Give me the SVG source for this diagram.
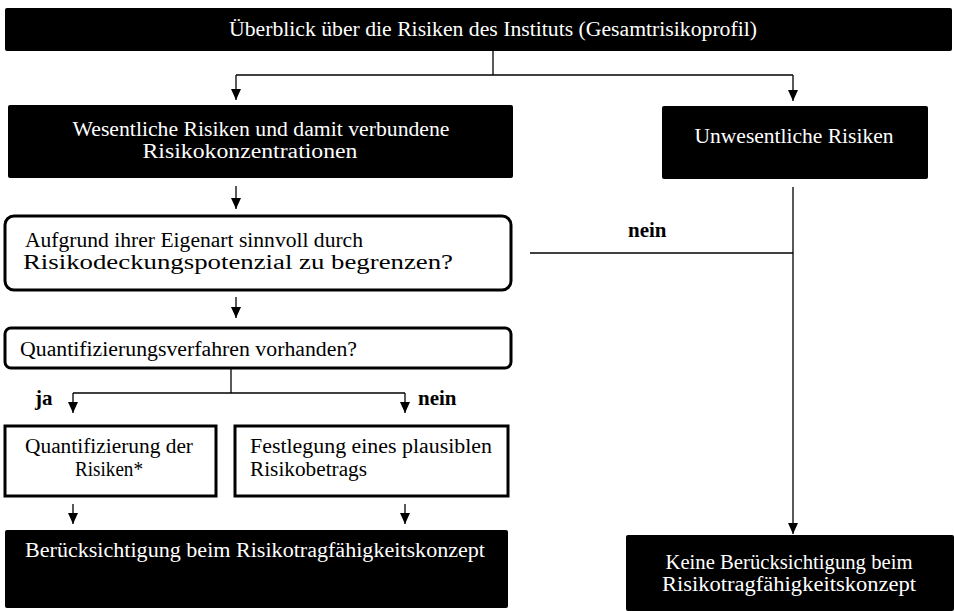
<svg xmlns="http://www.w3.org/2000/svg" width="954" height="611" viewBox="0 0 954 611">
<defs>
<marker id="ah" markerUnits="userSpaceOnUse" markerWidth="11" markerHeight="10" refX="11" refY="5" orient="auto" viewBox="0 0 11 10"><path d="M0,0 L11,5 L0,10 Z" fill="#000"/></marker>
</defs>
<style>
.dark{fill:#000;}
.wt{fill:#fff;font-family:"Liberation Serif","Times New Roman",serif;font-size:20.5px;}
.bt{fill:#000;font-family:"Liberation Serif","Times New Roman",serif;font-size:20.5px;}
.bb{fill:#000;font-family:"Liberation Serif","Times New Roman",serif;font-size:21px;font-weight:bold;}
.rb{fill:#fff;stroke:#000;stroke-width:3;}
.ln{fill:none;stroke:#000;stroke-width:1.3;}
.ar{fill:none;stroke:#000;stroke-width:1.3;marker-end:url(#ah);}
</style>
<rect width="954" height="611" fill="#fff"/>
<g id="connectors">
<line class="ln" x1="493" y1="51" x2="493" y2="75"/>
<line class="ln" x1="236" y1="75" x2="793" y2="75"/>
<line class="ar" x1="236" y1="75" x2="236" y2="100"/>
<line class="ar" x1="793" y1="75" x2="793" y2="101"/>
<line class="ar" x1="236" y1="186" x2="236" y2="209"/>
<line class="ar" x1="236" y1="297" x2="236" y2="318"/>
<line class="ln" x1="231" y1="369" x2="231" y2="393"/>
<line class="ln" x1="73" y1="393" x2="405" y2="393"/>
<line class="ar" x1="73" y1="393" x2="73" y2="413"/>
<line class="ar" x1="405" y1="393" x2="405" y2="413"/>
<line class="ar" x1="73" y1="504" x2="73" y2="524"/>
<line class="ar" x1="405" y1="504" x2="405" y2="524"/>
<line class="ln" x1="530" y1="253" x2="793" y2="253"/>
<line class="ar" x1="793" y1="187" x2="793" y2="534"/>
<text class="bb" x="628" y="237">nein</text>
<text class="bb" x="35" y="405">ja</text>
<text class="bb" x="418" y="405">nein</text>
</g>
<g id="n1">
<rect class="dark" x="5" y="8" width="947" height="43" rx="2"/>
<text class="wt" x="493" y="36" text-anchor="middle" textLength="528" lengthAdjust="spacingAndGlyphs">Überblick über die Risiken des Instituts (Gesamtrisikoprofil)</text>
</g>
<g id="n2">
<rect class="dark" x="8" y="105" width="505" height="73" rx="2"/>
<text class="wt" x="261" y="136" text-anchor="middle" textLength="377" lengthAdjust="spacingAndGlyphs">Wesentliche Risiken und damit verbundene</text>
<text class="wt" x="250" y="158" text-anchor="middle" textLength="215" lengthAdjust="spacingAndGlyphs">Risikokonzentrationen</text>
</g>
<g id="n3">
<rect class="dark" x="662" y="106" width="266" height="73" rx="2"/>
<text class="wt" x="794" y="143" text-anchor="middle" textLength="199" lengthAdjust="spacingAndGlyphs">Unwesentliche Risiken</text>
</g>
<g id="n4">
<rect class="rb" x="5" y="216" width="506" height="74" rx="9"/>
<text class="bt" x="25" y="247" textLength="338" lengthAdjust="spacingAndGlyphs">Aufgrund ihrer Eigenart sinnvoll durch</text>
<text class="bt" x="23" y="269" textLength="430" lengthAdjust="spacingAndGlyphs">Risikodeckungspotenzial zu begrenzen?</text>
</g>
<g id="n5">
<rect class="rb" x="5" y="328" width="506" height="40" rx="6"/>
<text class="bt" x="20" y="356" textLength="337" lengthAdjust="spacingAndGlyphs">Quantifizierungsverfahren vorhanden?</text>
</g>
<g id="n6">
<rect class="rb" x="5" y="426" width="211" height="70"/>
<text class="bt" x="109" y="453" text-anchor="middle" textLength="168" lengthAdjust="spacingAndGlyphs">Quantifizierung der</text>
<text class="bt" x="109" y="476" text-anchor="middle" textLength="68" lengthAdjust="spacingAndGlyphs">Risiken*</text>
</g>
<g id="n7">
<rect class="rb" x="235" y="426" width="273" height="70"/>
<text class="bt" x="250" y="453" textLength="242" lengthAdjust="spacingAndGlyphs">Festlegung eines plausiblen</text>
<text class="bt" x="250" y="476" textLength="117" lengthAdjust="spacingAndGlyphs">Risikobetrags</text>
</g>
<g id="n8">
<rect class="dark" x="5" y="530" width="503" height="78" rx="2"/>
<text class="wt" x="255" y="557" text-anchor="middle" textLength="460" lengthAdjust="spacingAndGlyphs">Berücksichtigung beim Risikotragfähigkeitskonzept</text>
</g>
<g id="n9">
<rect class="dark" x="626" y="535" width="328" height="76" rx="2"/>
<text class="wt" x="789" y="569" text-anchor="middle" textLength="247" lengthAdjust="spacingAndGlyphs">Keine Berücksichtigung beim</text>
<text class="wt" x="789" y="591" text-anchor="middle" textLength="254" lengthAdjust="spacingAndGlyphs">Risikotragfähigkeitskonzept</text>
</g>
</svg>
